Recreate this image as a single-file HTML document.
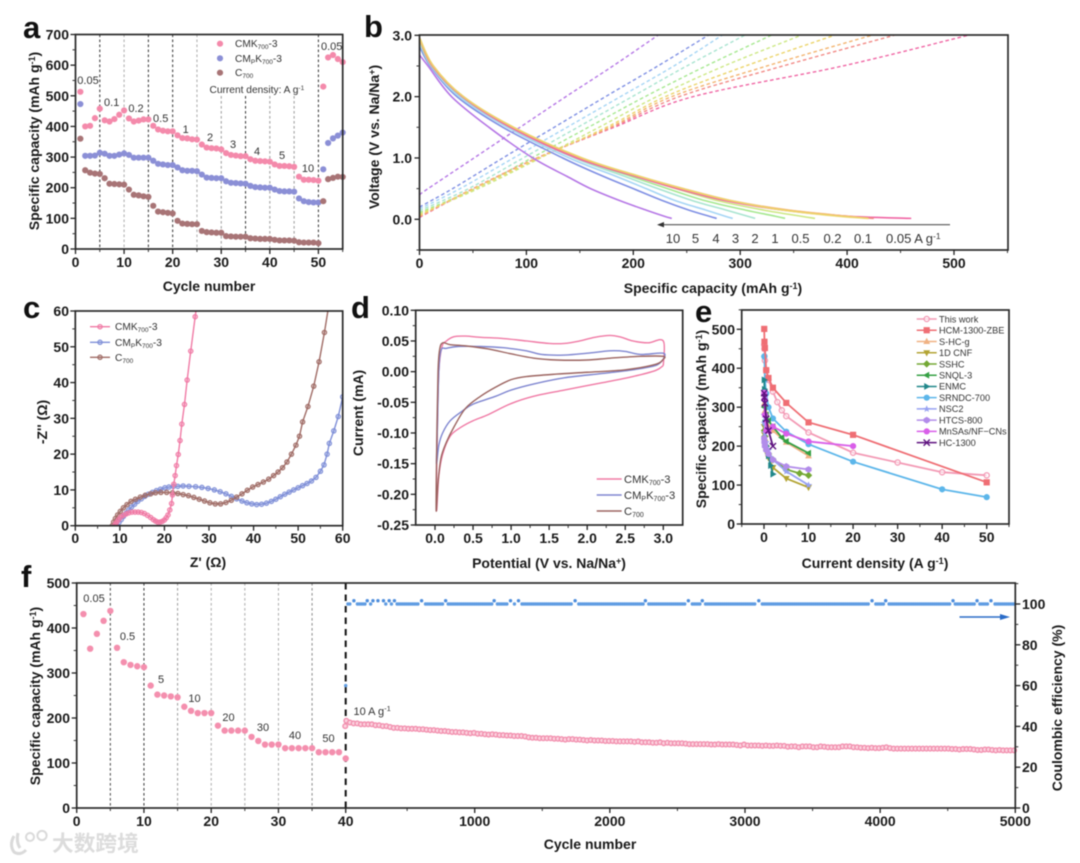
<!DOCTYPE html>
<html lang="en">
<head>
<meta charset="utf-8">
<title>Electrochemical performance figure</title>
<style>
html,body{margin:0;padding:0;background:#fff;}
svg{display:block;filter:blur(.45px);font-family:"Liberation Sans",sans-serif;}
.at{font-weight:bold;font-size:14px;fill:#1a1a1a;}
.pl{font-weight:bold;font-size:31px;fill:#111;}
.an{font-size:11px;fill:#333;}
.lg{font-size:10.2px;fill:#333;}
.le{font-size:9.2px;fill:#333;}
.ld{font-size:11.2px;fill:#333;}
.br{font-size:13px;fill:#333;}
</style>
</head>
<body>
<svg id="fig" width="1080" height="863" viewBox="0 0 1080 863" xmlns="http://www.w3.org/2000/svg">
<rect width="1080" height="863" fill="#fff"/>
<defs>
<clipPath id="clipC"><rect x="75.3" y="311" width="267.4" height="214.7"/></clipPath>
<clipPath id="clipB"><rect x="419.5" y="35" width="588.5" height="215"/></clipPath>
</defs>

<text class="pl" x="23" y="38">a</text>
<text class="pl" x="364" y="37">b</text>
<text class="pl" x="23" y="318">c</text>
<text class="pl" x="351" y="318">d</text>
<text class="pl" x="695" y="322">e</text>
<text class="pl" x="21" y="587">f</text>

<!-- Axis titles -->
<text class="at" text-anchor="middle" transform="translate(39,141) rotate(-90)">Specific capacity (mAh g<tspan dy="-4" font-size="9">-1</tspan><tspan dy="4">)</tspan></text>
<text class="at" text-anchor="middle" x="209" y="291">Cycle number</text>
<text class="at" text-anchor="middle" transform="translate(379,137) rotate(-90)">Voltage (V vs. Na/Na<tspan dy="-4" font-size="9">+</tspan><tspan dy="4">)</tspan></text>
<text class="at" text-anchor="middle" x="713" y="293">Specific capacity (mAh g<tspan dy="-4" font-size="9">-1</tspan><tspan dy="4">)</tspan></text>
<text class="at" text-anchor="middle" transform="translate(47,422) rotate(-90)">-Z'' (Ω)</text>
<text class="at" text-anchor="middle" x="208" y="567">Z' (Ω)</text>
<text class="at" text-anchor="middle" transform="translate(363,413) rotate(-90)">Current (mA)</text>
<text class="at" text-anchor="middle" x="549" y="568">Potential (V vs. Na/Na<tspan dy="-4" font-size="9">+</tspan><tspan dy="4">)</tspan></text>
<text class="at" text-anchor="middle" transform="translate(706,419) rotate(-90)">Specific capacity (mAh g<tspan dy="-4" font-size="9">-1</tspan><tspan dy="4">)</tspan></text>
<text class="at" text-anchor="middle" x="875" y="568">Current density (A g<tspan dy="-4" font-size="9">-1</tspan><tspan dy="4">)</tspan></text>
<text class="at" text-anchor="middle" transform="translate(40,696) rotate(-90)">Specific capacity (mAh g<tspan dy="-4" font-size="9">-1</tspan><tspan dy="4">)</tspan></text>
<text class="at" text-anchor="middle" transform="translate(1062,708) rotate(-90)">Coulombic efficiency (%)</text>
<text class="at" text-anchor="middle" x="590" y="849">Cycle number</text>

<!-- Panel a annotations -->
<g id="aLegendText" class="lg">
<text x="235" y="47">CMK<tspan dy="2" font-size="6.5">700</tspan><tspan dy="-2">-3</tspan></text>
<text x="235" y="62">CM<tspan dy="2" font-size="6.5">P</tspan><tspan dy="-2">K</tspan><tspan dy="2" font-size="6.5">700</tspan><tspan dy="-2">-3</tspan></text>
<text x="235" y="76">C<tspan dy="2" font-size="6.5">700</tspan></text>
<text x="209.5" y="93">Current density: A g<tspan dy="-3" font-size="6.5">-1</tspan></text>
</g>
<g class="an" text-anchor="middle">
<text x="88" y="84">0.05</text>
<text x="111.7" y="106">0.1</text>
<text x="136" y="112">0.2</text>
<text x="160.7" y="122">0.5</text>
<text x="185.7" y="133">1</text>
<text x="210" y="141">2</text>
<text x="233" y="148">3</text>
<text x="257" y="155">4</text>
<text x="282" y="159">5</text>
<text x="308" y="172">10</text>
<text x="331.7" y="50">0.05</text>
</g>

<!-- Panel b annotations -->
<line x1="662" y1="224.7" x2="950" y2="224.7" stroke="#555" stroke-width="1.2"/>
<polygon points="657,224.7 664,222 664,227.4" fill="#333"/>
<g class="br" text-anchor="middle">
<text x="673" y="243">10</text>
<text x="695.5" y="243">5</text>
<text x="716" y="243">4</text>
<text x="735.5" y="243">3</text>
<text x="755" y="243">2</text>
<text x="775" y="243">1</text>
<text x="800.5" y="243">0.5</text>
<text x="832.5" y="243">0.2</text>
<text x="863" y="243">0.1</text>
<text text-anchor="start" x="886" y="243">0.05 A g<tspan dy="-4" font-size="8.5">-1</tspan></text>
</g>

<!-- Panel c legend text -->
<g class="lg">
<text x="115" y="330">CMK<tspan dy="2" font-size="6.5">700</tspan><tspan dy="-2">-3</tspan></text>
<text x="115" y="346">CM<tspan dy="2" font-size="6.5">P</tspan><tspan dy="-2">K</tspan><tspan dy="2" font-size="6.5">700</tspan><tspan dy="-2">-3</tspan></text>
<text x="115" y="361">C<tspan dy="2" font-size="6.5">700</tspan></text>
</g>

<!-- Panel d legend -->
<g class="ld">
<text x="624" y="483">CMK<tspan dy="2" font-size="7">700</tspan><tspan dy="-2">-3</tspan></text>
<text x="624" y="499">CM<tspan dy="2" font-size="7">P</tspan><tspan dy="-2">K</tspan><tspan dy="2" font-size="7">700</tspan><tspan dy="-2">-3</tspan></text>
<text x="624" y="515">C<tspan dy="2" font-size="7">700</tspan></text>
</g>
<line x1="596.7" x2="621.7" y1="479" y2="479" stroke="#f07aa5" stroke-width="1.5"/>
<line x1="596.7" x2="621.7" y1="495" y2="495" stroke="#7f86d0" stroke-width="1.5"/>
<line x1="596.7" x2="621.7" y1="511" y2="511" stroke="#9c6460" stroke-width="1.5"/>

<!-- Panel e legend text -->
<g class="le">
<text x="939" y="322.3">This work</text>
<text x="939" y="333.5">HCM-1300-ZBE</text>
<text x="939" y="344.8">S-HC-g</text>
<text x="939" y="356">1D CNF</text>
<text x="939" y="367.3">SSHC</text>
<text x="939" y="378.5">SNQL-3</text>
<text x="939" y="389.7">ENMC</text>
<text x="939" y="401">SRNDC-700</text>
<text x="939" y="412.2">NSC2</text>
<text x="939" y="423.5">HTCS-800</text>
<text x="939" y="434.7">MnSAs/NF−CNs</text>
<text x="939" y="446">HC-1300</text>
</g>

<!-- Panel f annotations -->
<g class="an" text-anchor="middle">
<text x="94" y="602">0.05</text>
<text x="127.5" y="640">0.5</text>
<text x="161" y="683">5</text>
<text x="194.5" y="702">10</text>
<text x="228.5" y="721">20</text>
<text x="263" y="731">30</text>
<text x="295" y="739">40</text>
<text x="328.5" y="742">50</text>
<text text-anchor="start" x="353.5" y="715">10 A g<tspan dy="-4" font-size="7.5">-1</tspan></text>
</g>
<line x1="959.5" y1="617" x2="1002" y2="617" stroke="#2a6cc8" stroke-width="1.5"/>
<polygon points="1010,617 1000,614 1000,620" fill="#2a6cc8"/>

<!-- Watermark -->
<g opacity="1">
<path d="M14 836 Q9 845 14 852 Q20 856 26 850 M18 833 Q16 842 20 848" fill="none" stroke="#dadada" stroke-width="3"/>
<circle cx="30" cy="837" r="4" fill="none" stroke="#dadada" stroke-width="2"/>
<circle cx="42" cy="835.5" r="4.6" fill="none" stroke="#dadada" stroke-width="2"/>
<text x="52" y="851" font-size="21.7" font-weight="bold" fill="#dcdcdc" style='font-family:"Liberation Sans","Noto Sans CJK SC",sans-serif'>大数跨境</text>
</g>

<g id="plots"></g>
</svg>

<script>
/* ---------- Panel a data ---------- */
const aCmk=[513,400,402,427,458,420,416,424,438,452,426,416,419,423,423,402,390,386,384,384,371,362,361,358,357,341,331,329,328,325,313,307,305,303,303,293,288,287,286,285,276,271,271,270,268,236,226,226,225,223,530,625,633,620,610];
const aCmpk=[473,304,304,305,314,311,304,304,308,312,307,298,298,298,298,288,278,276,274,274,266,257,255,255,254,243,233,232,231,231,221,216,215,214,213,206,202,201,200,200,194,189,188,188,187,165,156,153,152,152,260,346,361,370,380];
const aC=[360,257,249,246,245,231,213,212,211,210,194,177,175,172,170,141,122,120,118,116,92,83,82,81,81,59,55,54,53,53,42,41,40,40,40,35,34,33,33,33,30,28,28,28,27,22,21,21,21,19,156,228,232,236,235];
const aXTicks=[0,10,20,30,40,50];
const aYTicks=[0,100,200,300,400,500,600,700];

/* ---------- Panel b data: capacity read at fixed voltages ---------- */
const bRates=['10','5','4','3','2','1','0.05','0.1','0.2','0.5'];
const bDischargeVolts=[2.5,2,1.5,1,0.7,0.5,0.3,0.15,0.05,0.015];
const bDischargeStart=[2.68,2.82,2.88,2.9,2.92,2.94,2.95,2.95,2.96,2.96];
const bD10=[8,30,65,106,138,160,188,212,229,236];
const bD5=[10,35,78,134,172,200,228,252,271,278];
const bD4=[11,37,82,140,184,212,240,268,286,293];
const bD3=[11,39,84,145,192,223,256,287,307,314];
const bD2=[12,40,86,148,198,232,268,305,333,342];
const bD1=[12,41,87,150,203,240,280,322,357,370];
const bD005=[12,40,85,147,202,241,287,340,400,460];
const bD01=[12,41,87,150,205,245,291,343,398,425];
const bD02=[13,41,88,152,206,247,293,345,400,420];
const bD05=[13,41,88,152,206,246,292,340,392,420];
const bChargeVolts=[0.5,1,1.5,2,2.5,3];
const bChargeStart=[0.4,0.2,0.17,0.14,0.11,0.09,0.03,0.04,0.05,0.07];
const bC10=[8,51,94,137,181,223];
const bC5=[31,78,126,174,223,270];
const bC4=[38,88,138,188,238,283];
const bC3=[46,97,148,199,250,304];
const bC2=[52,105,158,211,268,329];
const bC1=[55,113,168,222,285,357];
const bC005=[50,110,182,256,396,513];
const bC01=[50,110,180,243,340,444];
const bC02=[50,110,178,236,325,423];
const bC05=[52,112,175,230,305,388];
const bXTicks=[0,100,200,300,400,500];
const bYTicks=[0,1,2,3];

/* ---------- Panel c data ---------- */
const cCmkZre=[8.8,9,9.3,9.7,10.2,10.8,11.4,12,12.7,13.4,14.1,14.8,15.5,16.2,16.9,17.5,18,18.5,19,19.5,20,20.4,20.8,21.2,21.6,21.8,22.1,22.4,22.7,23.1,23.5,23.9,24.5,25.1,25.9,26.9,27.4];
const cCmkZim=[0,0.5,1,1.7,2.4,2.9,3.3,3.6,3.8,3.8,3.8,3.7,3.4,2.9,2.3,1.7,1.3,1,1,1.2,1.6,2.2,3,4.4,6.2,8.6,11.6,14,16.8,19.9,23.8,28.4,33.9,40.7,48.8,58.4,63];
const cCmpkZre=[9.3,9.8,10.3,10.8,11.4,12,12.6,13.3,14,14.8,15.6,16.4,17.3,18.2,19.1,20.1,21,22,23,24.2,25.5,27,28.4,29.8,31.2,32.5,33.8,35,36.2,37.4,38.5,39.6,40.7,41.8,42.9,44,45,46,47,48,49,50,51,52,53,54,55,55.8,56.5,57,58,59,60];
const cCmpkZim=[0,0.9,1.7,2.6,3.5,4.4,5.2,6,6.8,7.5,8.2,8.8,9.3,9.8,10.2,10.6,10.8,11,11,11.1,11,10.9,10.7,10.4,10,9.5,8.9,8.2,7.5,6.9,6.4,6.1,5.9,6,6.3,6.8,7.4,8.1,8.8,9.4,10,10.6,11.2,11.8,12.5,13.5,15.2,17,20,23,26.5,30.5,36];
const cCZre=[8.3,8.6,9,9.5,10.1,10.8,11.6,12.5,13.5,14.6,15.7,16.9,18,19.2,20.5,21.8,23,24.2,25.4,26.6,27.8,29,30.2,31.4,32.6,33.8,35,36.2,37.4,38.6,39.8,41,42.2,43.4,44.5,45.5,46.5,47.5,48.5,49.5,50.3,51,52.2,53.5,54.7,55.9,56.8];
const cCZim=[0,1,2,3,4,5,5.9,6.8,7.4,8,8.5,8.9,9.2,9.3,9.3,9.2,9,8.7,8.4,7.9,7.4,6.9,6.4,6.1,6.1,6.5,7.1,8,8.9,9.9,10.8,11.5,12.2,13,14,15,16.2,17.8,20,22.5,25,29,33.3,39,45.8,54,61];
const cXTicks=[0,10,20,30,40,50,60];
const cYTicks=[0,10,20,30,40,50,60];

/* ---------- Panel d data ---------- */
const dCmkV=[3,3,2.8,2.6,2.45,2.3,2.1,1.9,1.7,1.5,1.2,0.9,0.6,0.4,0.25,0.15,0.09,0.05,0.03,0.02,0.05,0.1,0.2,0.35,0.5,0.7,1,1.3,1.7,2.2,2.6,2.9,3];
const dCmkI=[0.01,0.05,0.047,0.05,0.056,0.059,0.056,0.05,0.046,0.046,0.05,0.054,0.056,0.058,0.057,0.05,0.04,0,-0.1,-0.225,-0.17,-0.135,-0.105,-0.09,-0.08,-0.07,-0.052,-0.04,-0.03,-0.018,-0.008,0.002,0.01];
const dCmpkV=[3,3,2.7,2.5,2.3,2,1.7,1.4,1.2,0.9,0.6,0.3,0.15,0.08,0.05,0.03,0.02,0.05,0.1,0.2,0.35,0.5,0.8,1,1.3,1.7,2.2,2.6,2.9,3];
const dCmpkI=[0.02,0.03,0.028,0.033,0.034,0.03,0.027,0.028,0.034,0.039,0.041,0.041,0.038,0.035,0,-0.1,-0.15,-0.12,-0.1,-0.08,-0.065,-0.053,-0.04,-0.03,-0.02,-0.01,-0.003,0.003,0.01,0.02];
const dCV=[3,3,2.7,2.3,2,1.6,1.3,1,0.7,0.4,0.2,0.1,0.06,0.04,0.025,0.015,0.04,0.08,0.15,0.25,0.4,0.6,0.8,1,1.2,1.6,2,2.5,2.9,3];
const dCI=[0.02,0.025,0.025,0.022,0.019,0.019,0.022,0.029,0.037,0.042,0.044,0.047,0.035,0,-0.1,-0.225,-0.18,-0.14,-0.115,-0.09,-0.06,-0.04,-0.025,-0.013,-0.008,-0.004,-0.001,0.003,0.012,0.02];
const dXTicks=[0,0.5,1,1.5,2,2.5,3];
const dYTicks=[0.1,0.05,0,-0.05,-0.1,-0.15,-0.2,-0.25];

/* ---------- Panel e data ---------- */
const eThisWorkX=[0.05,0.1,0.2,0.5,1,2,3,4,5,10,20,30,40,50];
const eThisWorkY=[460,450,420,395,370,340,313,292,277,235,183,158,133,125];
const eHcmX=[0.05,0.1,0.2,0.5,1,2,5,10,20,50];
const eHcmY=[501,468,452,395,375,350,311,261,229,107];
const eShcX=[0.1,0.2,0.5,1,2,5,10];
const eShcY=[310,290,265,250,240,210,175];
const eCnfX=[0.05,0.1,0.2,0.5,1,2,5,10];
const eCnfY=[250,230,210,185,170,145,117,94];
const eSshcX=[0.1,0.2,0.5,1,2,5,8,10];
const eSshcY=[240,225,200,180,165,140,130,125];
const eSnqlX=[0.1,0.5,1,2,4,5,10];
const eSnqlY=[300,280,265,250,222,212,182];
const eEnmcX=[0.05,0.1,0.2,0.5,1,1.5,2];
const eEnmcY=[370,346,260,200,175,150,128];
const eSrndcX=[0.05,0.1,0.2,0.5,1,2,5,10,20,40,50];
const eSrndcY=[430,431,370,335,300,271,237,205,160,89,69];
const eNscX=[0.05,0.1,0.2,0.5,1,2,5,10];
const eNscY=[280,260,235,210,190,165,135,100];
const eHtcsX=[0.05,0.1,0.2,0.5,1,2,5,10];
const eHtcsY=[220,210,200,190,180,165,148,140];
const eMnX=[0.05,0.1,0.2,0.5,1,2,5,10,20];
const eMnY=[337,320,280,240,240,250,232,212,200];
const eHcX=[0.05,0.1,0.2,0.5,1,2];
const eHcY=[336,325,310,270,240,200];
const eXTicks=[0,10,20,30,40,50];
const eYTicks=[0,100,200,300,400,500];

/* ---------- Panel f data ---------- */
const fRateCapacity=[431,354,387,416,438,356,324,318,315,313,272,252,250,248,246,225,216,211,211,211,183,172,172,172,172,158,149,141,141,141,133,133,133,133,133,124,124,124,124,110];
const fLongStartCycle=50;
const fLongStepCycles=27;
const fLongCapacity=[194,190,188,188,186,186,186,186,184,184,
182,182,180,178,178,177,177,176,176,176,
175,175,174,173,173,172,171,171,170,169,
169,168,168,167,166,167,165,165,164,163,
164,163,162,162,161,161,160,160,160,159,
157,156,156,155,155,155,155,154,154,153,
152,153,153,152,152,151,150,151,150,150,
150,149,149,149,148,148,148,148,148,147,
148,146,146,146,145,145,146,144,145,144,
144,144,144,143,142,142,142,142,142,142,
141,141,142,141,141,141,141,140,139,141,
139,139,139,139,138,139,138,138,139,138,
138,136,137,137,135,137,137,137,135,135,
137,136,135,135,135,135,137,137,137,135,
135,134,134,133,134,133,133,134,135,133,
132,132,132,132,132,132,132,132,132,132,
132,132,132,132,132,132,131,131,130,131,
131,131,130,129,129,130,130,129,128,129,
128,128,128,128];
const fFirstLongCycle=[42];
const fFirstLongCapacity=[182];
const fCeBaseline=100;
const fCeBumpCycles=[106,205,247,284,325,367,406,607,785,1144,1265,1324,1743,2263,2581,2684,3102,3940,4041,4539,4717,4820];
const fCeBumpValues=[101.6,101.6,101.6,101.6,101.6,101.6,101.6,101.6,101.6,101.6,101.6,101.6,101.6,101.6,101.6,101.6,101.6,101.6,101.6,101.6,101.6,101.6];
const fCeFirstCycle=[40];
const fCeFirstValue=[60];
const fXTicksLeft=[0,10,20,30,40];
const fXTicksRight=[1000,2000,3000,4000,5000];
const fYTicks=[0,100,200,300,400,500];
const fY2Ticks=[0,20,40,60,80,100];

/* ---------- helpers ---------- */
const NS='http://www.w3.org/2000/svg';
const root=document.getElementById('plots');
function make(tag,attrs,parent){
  const el=document.createElementNS(NS,tag);
  for(const k in attrs) el.setAttribute(k,attrs[k]);
  (parent||root).appendChild(el);
  return el;
}
function label(el,name,active){
  
  
  return el;
}
function linear(d0,d1,r0,r1){return v=>r0+(v-d0)*(r1-r0)/(d1-d0);}
function smooth(p){
  let d='M'+p[0][0].toFixed(2)+' '+p[0][1].toFixed(2);
  for(let i=0;i<p.length-1;i++){
    const a=p[i-1]||p[i],b=p[i],c=p[i+1],e=p[i+2]||c;
    d+='C'+(b[0]+(c[0]-a[0])/6).toFixed(2)+' '+(b[1]+(c[1]-a[1])/6).toFixed(2)+' '+(c[0]-(e[0]-b[0])/6).toFixed(2)+' '+(c[1]-(e[1]-b[1])/6).toFixed(2)+' '+c[0].toFixed(2)+' '+c[1].toFixed(2);
  }
  return d;
}
function frame(name,l,t,r,b){
  const el=make('rect',{x:l,y:t,width:r-l,height:b-t,fill:'none',stroke:'#2a2a2a','stroke-width':1.7});
  label(el,name,false);
}
function tickX(panel,sx,yAxis,vals,minors,base,fmt){
  minors.forEach(v=>{
    const el=make('line',{x1:sx(v),x2:sx(v),y1:yAxis,y2:yAxis+3,stroke:'#333','stroke-width':1});
    label(el,panel+'-x-minor-tick',false);
  });
  vals.forEach(v=>{
    const m=make('line',{x1:sx(v),x2:sx(v),y1:yAxis,y2:yAxis+5,stroke:'#222','stroke-width':1.3});
    label(m,panel+'-x-tick',false);
    const t=make('text',{x:sx(v),y:base,'text-anchor':'middle','font-weight':'bold','font-size':14,fill:'#1a1a1a'});
    label(t,panel+'-x-tick-label',false);
    t.textContent=fmt?fmt(v):v;
  });
}
function tickY(panel,sy,xAxis,vals,minors,labelX,fmt,side){
  const s=side||-1;
  minors.forEach(v=>{
    const el=make('line',{x1:xAxis,x2:xAxis+s*3,y1:sy(v),y2:sy(v),stroke:'#333','stroke-width':1});
    label(el,panel+'-y-minor-tick',false);
  });
  vals.forEach(v=>{
    const m=make('line',{x1:xAxis,x2:xAxis+s*5,y1:sy(v),y2:sy(v),stroke:'#222','stroke-width':1.3});
    label(m,panel+'-y-tick',false);
    const t=make('text',{x:labelX,y:sy(v)+5,'text-anchor':s<0?'end':'start','font-weight':'bold','font-size':14,fill:'#1a1a1a'});
    label(t,panel+'-y-tick-label',false);
    t.textContent=fmt?fmt(v):v;
  });
}
function range(a,b,st){const o=[];for(let v=a;v<=b+1e-9;v+=st)o.push(+v.toFixed(4));return o;}
function dashLine(name,x,y1,y2,color){
  const el=make('line',{x1:x,x2:x,y1:y1,y2:y2,stroke:color,'stroke-width':1,'stroke-dasharray':'2.6,2.4'});
  label(el,name,false);
}

/* ---------- Panel a ---------- */
(function(){
  const x=linear(0,55,75.5,342.7), y=linear(0,700,249,34.5);
  [[5,'#333',34.5],[10,'#aaa',34.5],[15,'#333',34.5],[20,'#333',34.5],[25,'#aaa',34.5],[30,'#999',96],[35,'#333',96],[40,'#999',96],[45,'#999',96],[50,'#333',34.5]].forEach(d=>{
    dashLine('a-rate-divider',x(d[0]),d[2],249,d[1]);
  });
  [[aCmk,'#f48aab','a-cmk-point'],[aCmpk,'#8b8fd6','a-cmpk-point'],[aC,'#a87476','a-c700-point']].forEach(s=>{
    s[0].forEach((v,i)=>{
      const c=make('circle',{cx:x(i+1),cy:y(v),r:3.1,fill:s[1]});
      label(c,s[2],false);
    });
  });
  frame('a-plot-frame',75.5,34.5,342.7,249);
  tickX('a',x,249,aXTicks,range(5,55,10),267);
  tickY('a',y,75.5,aYTicks,range(50,650,100),69);
  [[43.7,'#f48aab'],[58.3,'#8b8fd6'],[72.7,'#a87476']].forEach(l=>{
    const c=make('circle',{cx:220,cy:l[0],r:3.1,fill:l[1]});
    label(c,'a-legend-marker',false);
  });
})();

/* ---------- Panel b ---------- */
(function(){
  const x=linear(0,500,419.5,954), y=linear(0,3,219.3,35.3);
  const g=make('g',{'clip-path':'url(#clipB)'});
  label(g,'b-curves',false);
  const colors=['#b678e6','#7f90e4','#a5d5f5','#a8e4d0','#a6e890','#cde884','#f066a4','#f28a86','#f3b470','#ecd56c'];
  const discharge=[bD10,bD5,bD4,bD3,bD2,bD1,bD005,bD01,bD02,bD05];
  const charge=[bC10,bC5,bC4,bC3,bC2,bC1,bC005,bC01,bC02,bC05];
  bRates.forEach((r,i)=>{
    const pc=[[x(0),y(bChargeStart[i])]];
    bChargeVolts.forEach((v,j)=>pc.push([x(charge[i][j]),y(v)]));
    const el=make('path',{d:smooth(pc),fill:'none',stroke:colors[i],'stroke-width':1.4,'stroke-dasharray':'3.6,2.6'},g);
    label(el,'b-charge-curve-'+r,false);
  });
  bRates.forEach((r,i)=>{
    const pd=[[x(0),y(bDischargeStart[i])]];
    bDischargeVolts.forEach((v,j)=>pd.push([x(discharge[i][j]),y(v)]));
    const el=make('path',{d:smooth(pd),fill:'none',stroke:colors[i],'stroke-width':1.6},g);
    label(el,'b-discharge-curve-'+r,false);
  });
  frame('b-plot-frame',419.5,35,1008,250);
  tickX('b',x,250,bXTicks,range(50,550,100),268);
  tickY('b',y,419.5,bYTicks,[-0.5,0.5,1.5,2.5],412,v=>v.toFixed(1));
})();

/* ---------- Panel c ---------- */
(function(){
  const x=linear(0,60,75.3,342.7), y=linear(0,60,525.7,311);
  const g=make('g',{'clip-path':'url(#clipC)'});
  label(g,'c-nyquist-series',false);
  [[cCmpkZre,cCmpkZim,'#7f8fd8','cmpk'],[cCZre,cCZim,'#a06c66','c700'],[cCmkZre,cCmkZim,'#f07aa5','cmk']].forEach(s=>{
    const pts=s[0].map((v,i)=>x(v).toFixed(2)+','+y(s[1][i]).toFixed(2)).join(' ');
    const line=make('polyline',{points:pts,fill:'none',stroke:s[2],'stroke-width':1.4},g);
    label(line,'c-'+s[3]+'-line',false);
    s[0].forEach((v,i)=>{
      const c=make('circle',{cx:x(v),cy:y(s[1][i]),r:2.2,fill:s[2],'fill-opacity':0.35,stroke:s[2],'stroke-width':1.1},g);
      label(c,'c-'+s[3]+'-point',false);
    });
  });
  frame('c-plot-frame',75.3,311,342.7,525.7);
  tickX('c',x,525.7,cXTicks,range(5,55,10),543);
  tickY('c',y,75.3,cYTicks,range(5,55,10),69);
  [[326.7,'#f07aa5'],[342.3,'#7f8fd8'],[357.3,'#a06c66']].forEach(l=>{
    const ln=make('line',{x1:90,x2:110,y1:l[0],y2:l[0],stroke:l[1],'stroke-width':1.4});
    label(ln,'c-legend-line',false);
    const c=make('circle',{cx:100,cy:l[0],r:2.2,fill:l[1],'fill-opacity':0.35,stroke:l[1],'stroke-width':1.1});
    label(c,'c-legend-marker',false);
  });
})();

/* ---------- Panel d ---------- */
(function(){
  const x=linear(0,3,435,663.3), y=linear(-0.25,0.1,525,310.3);
  [[dCmkV,dCmkI,'#f07aa5','cmk'],[dCmpkV,dCmpkI,'#7f86d0','cmpk'],[dCV,dCI,'#9c6460','c700']].forEach(s=>{
    const pts=s[0].map((v,i)=>[x(v),y(s[1][i])]);
    const el=make('path',{d:smooth(pts),fill:'none',stroke:s[2],'stroke-width':1.4,'stroke-linejoin':'round'});
    label(el,'d-'+s[3]+'-cv-curve',false);
  });
  frame('d-plot-frame',415.7,310.3,682.7,525);
  tickX('d',x,525,dXTicks,[0.25,0.75,1.25,1.75,2.25,2.75],543,v=>v.toFixed(1));
  tickY('d',y,415.7,dYTicks,[0.075,0.025,-0.025,-0.075,-0.125,-0.175,-0.225],409,v=>v.toFixed(2));
})();

/* ---------- Panel e ---------- */
(function(){
  const x=linear(0,50,764,986.7), y=linear(0,500,524,329.3);
  function marker(kind,px,py,col,nm){
    const r=3.1;let el;
    if(kind==='open') el=make('circle',{cx:px,cy:py,r:2.6,fill:'#fff','fill-opacity':.55,stroke:col,'stroke-width':1.3});
    else if(kind==='circle') el=make('circle',{cx:px,cy:py,r:r,fill:col});
    else if(kind==='square') el=make('rect',{x:px-r,y:py-r,width:2*r,height:2*r,fill:col});
    else if(kind==='x'){
      el=make('path',{d:'M'+(px-r)+' '+(py-r)+'L'+(px+r)+' '+(py+r)+'M'+(px-r)+' '+(py+r)+'L'+(px+r)+' '+(py-r),stroke:col,'stroke-width':1.4,fill:'none'});
    } else {
      const shapes={up:[[0,-1.2],[1.1,.8],[-1.1,.8]],down:[[0,1.2],[1.1,-.8],[-1.1,-.8]],left:[[-1.2,0],[.8,1.1],[.8,-1.1]],right:[[1.2,0],[-.8,1.1],[-.8,-1.1]],diamond:[[0,-1.2],[1.2,0],[0,1.2],[-1.2,0]],hex:[[0,-1.1],[1,-.5],[1,.5],[0,1.1],[-1,.5],[-1,-.5]],star:[[0,-1.2],[.35,-.35],[1.2,-.3],[.5,.25],[.75,1],[0,.55],[-.75,1],[-.5,.25],[-1.2,-.3],[-.35,-.35]]};
      el=make('polygon',{points:shapes[kind].map(p=>(px+p[0]*r).toFixed(2)+','+(py+p[1]*r).toFixed(2)).join(' '),fill:col});
    }
    label(el,nm,false);
  }
  const series=[
    [eThisWorkX,eThisWorkY,'#f39ab5','open','this-work'],
    [eSrndcX,eSrndcY,'#5cb6ea','circle','srndc-700'],
    [eHcmX,eHcmY,'#ef6e74','square','hcm-1300-zbe'],
    [eShcX,eShcY,'#f0b283','up','s-hc-g'],
    [eCnfX,eCnfY,'#b3a434','down','1d-cnf'],
    [eSshcX,eSshcY,'#74a834','diamond','sshc'],
    [eSnqlX,eSnqlY,'#35a044','left','snql-3'],
    [eEnmcX,eEnmcY,'#20878a','right','enmc'],
    [eNscX,eNscY,'#98a2f2','star','nsc2'],
    [eHtcsX,eHtcsY,'#b28cea','hex','htcs-800'],
    [eMnX,eMnY,'#d95ee9','circle','mnsas-nf-cns'],
    [eHcX,eHcY,'#5f1480','x','hc-1300']
  ];
  series.forEach(s=>{
    const pts=s[0].map((v,i)=>x(v).toFixed(2)+','+y(s[1][i]).toFixed(2)).join(' ');
    const el=make('polyline',{points:pts,fill:'none',stroke:s[2],'stroke-width':1.8});
    label(el,'e-'+s[4]+'-line',false);
    s[0].forEach((v,i)=>marker(s[3],x(v),y(s[1][i]),s[2],'e-'+s[4]+'-point'));
  });
  frame('e-plot-frame',741.7,310,1009,524);
  tickX('e',x,524,eXTicks,range(-5,55,10),542);
  tickY('e',y,741.7,eYTicks,range(50,550,100),735);
  const order=[0,2,3,4,5,6,7,1,8,9,10,11];
  order.forEach((idx,row)=>{
    const s=series[idx], ly=319+row*11.24;
    const ln=make('line',{x1:916.7,x2:936.7,y1:ly,y2:ly,stroke:s[2],'stroke-width':1.5});
    label(ln,'e-legend-line-'+s[4],false);
    marker(s[3],926.7,ly,s[2],'e-legend-marker-'+s[4]);
  });
})();

/* ---------- Panel f ---------- */
(function(){
  const xL=linear(0,40,76.7,345.7), xR=linear(3000,5000,745,1015.3);
  const y=linear(0,500,808,583), y2=linear(0,100,808,604);
  [[5,'#444'],[10,'#333'],[15,'#999'],[20,'#aaa'],[25,'#aaa'],[30,'#aaa'],[35,'#888']].forEach(d=>{
    dashLine('f-rate-divider',xL(d[0]),583,808,d[1]);
  });
  const heavy=make('line',{x1:xL(40),x2:xL(40),y1:583,y2:808,stroke:'#111','stroke-width':2,'stroke-dasharray':'6.5,5'});
  label(heavy,'f-regime-divider',false);
  const gap=17;
  for(let c=62;c<=5000;c+=14){
    if(fCeBumpCycles.some(b=>Math.abs(b-c)<gap)) continue;
    const d=make('circle',{cx:xR(c),cy:y2(fCeBaseline),r:1.7,fill:'#5f9ce2'});
    label(d,'f-ce-point',false);
  }
  fCeBumpCycles.forEach((c,i)=>{
    const d=make('circle',{cx:xR(c),cy:y2(fCeBumpValues[i]),r:1.7,fill:'#4d8ddc'});
    label(d,'f-ce-point',false);
  });
  fCeFirstCycle.forEach((c,i)=>{
    const d=make('circle',{cx:xL(c),cy:y2(fCeFirstValue[i]),r:1.7,fill:'#5f9ce2'});
    label(d,'f-ce-first-point',false);
  });
  fRateCapacity.forEach((v,i)=>{
    const c=make('circle',{cx:xL(i+1),cy:y(v),r:3.2,fill:'#f48fae'});
    label(c,'f-rate-capacity-point',false);
  });
  fFirstLongCycle.forEach((c,i)=>{
    const d=make('circle',{cx:xR(c),cy:y(fFirstLongCapacity[i]),r:2.3,fill:'#fbd3df',stroke:'#f28fae','stroke-width':1.4});
    label(d,'f-long-capacity-point',false);
  });
  fLongCapacity.forEach((v,i)=>{
    const d=make('circle',{cx:xR(fLongStartCycle+i*fLongStepCycles),cy:y(v),r:2.3,fill:'#fbd3df',stroke:'#f28fae','stroke-width':1.4});
    label(d,'f-long-capacity-point',false);
  });
  frame('f-plot-frame',76.7,583,1015.3,808);
  tickX('f',xL,808,fXTicksLeft,[5,15,25,35],826);
  tickX('f',xR,808,fXTicksRight,[500,1500,2500,3500,4500],826);
  tickY('f',y,76.7,fYTicks,range(50,450,100),70);
  tickY('f2',y2,1015.3,fY2Ticks,range(10,110,20),1022,null,1);
})();
</script>
</body>
</html>
